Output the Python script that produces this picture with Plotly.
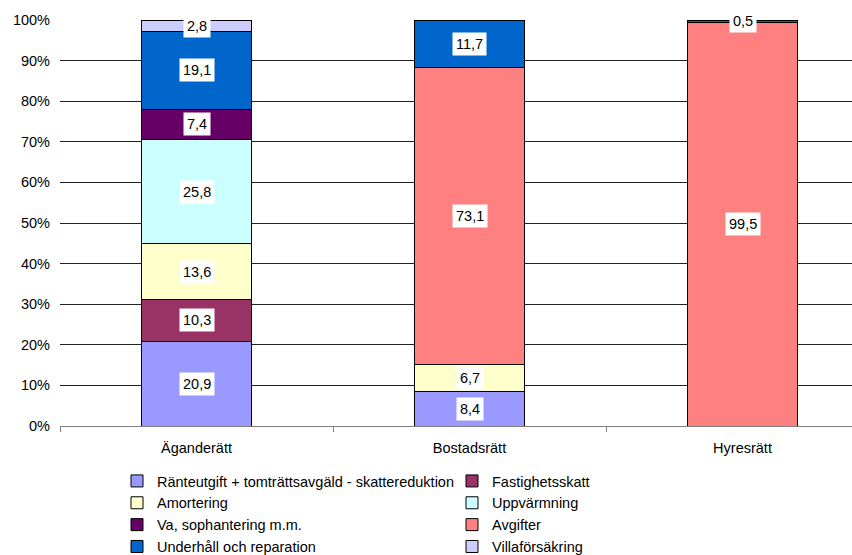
import plotly.graph_objects as go

categories = ["Äganderätt", "Bostadsrätt", "Hyresrätt"]
series_names = [
    "Ränteutgift + tomträttsavgäld - skattereduktion",
    "Fastighetsskatt",
    "Amortering",
    "Uppvärmning",
    "Va, sophantering m.m.",
    "Avgifter",
    "Underhåll och reparation",
    "Villaförsäkring",
]
ranteutgift = [20.9, 8.4, 0]
fastighetsskatt = [10.3, 0, 0]
amortering = [13.6, 6.7, 0]
uppvarmning = [25.8, 0, 0]
va_sophantering = [7.4, 0, 0]
avgifter = [0, 73.1, 99.5]
underhall = [19.1, 11.7, 0.5]
villaforsakring = [2.8, 0, 0]
y_ticks = [0, 10, 20, 30, 40, 50, 60, 70, 80, 90, 100]
y_tick_labels = [f"{t}%" for t in y_ticks]

series_values = [ranteutgift, fastighetsskatt, amortering, uppvarmning,
                 va_sophantering, avgifter, underhall, villaforsakring]
colors = ["#9999FF", "#993366", "#FFFFCC", "#CCFFFF",
          "#660066", "#FF8080", "#0066CC", "#CCCCFF"]

FONT = "Liberation Sans, Arial, sans-serif"

fig = go.Figure()
for name, vals, col in zip(series_names, series_values, colors):
    fig.add_trace(go.Bar(
        name=name, x=categories, y=vals,
        marker=dict(color=col, line=dict(color="black", width=1)),
        hoverinfo="skip",
    ))

# data labels with white boxes
totals = [sum(s[i] for s in series_values) for i in range(len(categories))]
cum = [0.0] * len(categories)
for vals in series_values:
    for i, v in enumerate(vals):
        if v > 0:
            mid = (cum[i] + v / 2) / totals[i] * 100
            fig.add_annotation(
                x=categories[i], y=mid, xref="x", yref="y",
                text=f"{v:.1f}".replace(".", ","), showarrow=False,
                bgcolor="white", borderpad=3,
                font=dict(family=FONT, size=14.5, color="black"),
            )
            cum[i] += v

fig.update_layout(
    width=852, height=555,
    barmode="stack", barnorm="percent", bargap=0.6,
    plot_bgcolor="white", paper_bgcolor="white",
    margin=dict(l=60, r=0, t=20, b=129),
    font=dict(family=FONT, size=14.5, color="black"),
    showlegend=True,
    legend=dict(
        orientation="h", traceorder="normal",
        xref="container", yref="container",
        x=117 / 852, y=1 - 465 / 555, xanchor="left", yanchor="top",
        entrywidth=290, entrywidthmode="pixels",
        font=dict(family=FONT, size=14.5, color="black"),
        itemclick=False,
    ),
)
fig.update_yaxes(
    range=[0, 100], tickvals=y_ticks, ticktext=y_tick_labels,
    showgrid=True, gridcolor="#222222", gridwidth=1,
    zeroline=False, showline=False, ticks="",
    ticklabelstandoff=9,
    tickfont=dict(family=FONT, size=14.5, color="black"),
)
fig.update_xaxes(
    range=[-0.5, 2.5 - 27 / 273],
    showline=True, linecolor="#808080", linewidth=1,
    ticks="outside", tickson="boundaries", ticklen=5, tickcolor="#808080",
    ticklabelstandoff=9,
    showgrid=False,
    tickfont=dict(family=FONT, size=14.5, color="black"),
)

fig.write_html("out.html", config={"displayModeBar": False},
               post_script="document.body.style.margin='0';")
